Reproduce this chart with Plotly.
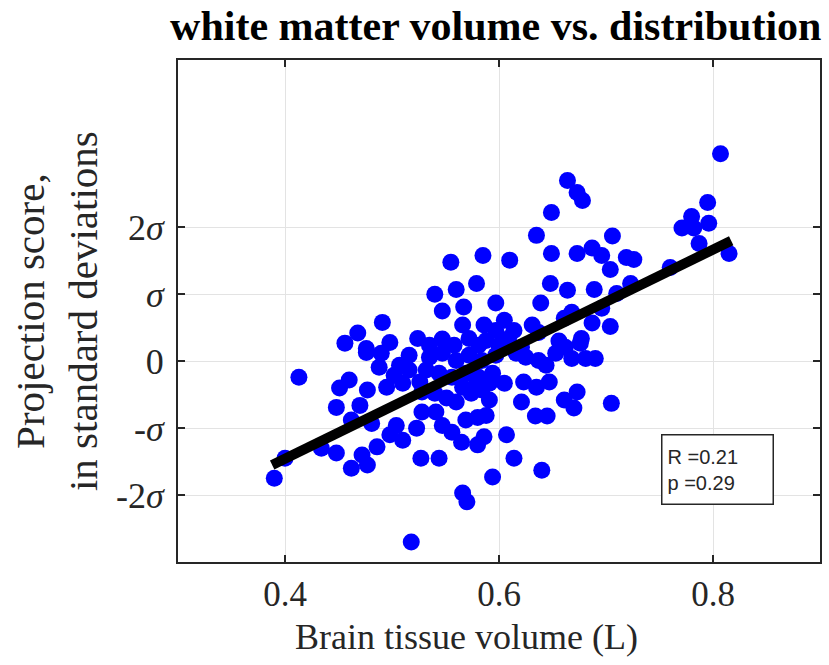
import plotly.graph_objects as go

# ---- data (brain tissue volume in L, projection score in SD units) ----
vol = [0.555, 0.585, 0.579, 0.560, 0.540, 0.567, 0.547, 0.597, 0.491, 0.566,
       0.586, 0.468, 0.524, 0.456, 0.498, 0.547, 0.572, 0.588, 0.476,
       0.807, 0.664, 0.673, 0.678, 0.649, 0.795, 0.780, 0.771, 0.782, 0.796,
       0.787, 0.815, 0.635, 0.706, 0.649, 0.673, 0.687, 0.696, 0.704, 0.719,
       0.726, 0.610, 0.760, 0.648, 0.664, 0.689, 0.723, 0.710, 0.639, 0.668,
       0.696, 0.605, 0.631, 0.661, 0.687, 0.704, 0.677, 0.656, 0.614, 0.637,
       0.413, 0.476, 0.490, 0.488, 0.460, 0.451, 0.477, 0.448, 0.470, 0.495,
       0.510, 0.462, 0.481, 0.400, 0.390, 0.434, 0.448, 0.462, 0.472, 0.477,
       0.486, 0.498, 0.510, 0.504, 0.523, 0.527, 0.544, 0.518, 0.566, 0.570,
       0.594, 0.528, 0.541, 0.547, 0.556, 0.565, 0.580, 0.586, 0.569, 0.580,
       0.588, 0.551, 0.560, 0.574, 0.584, 0.591, 0.528, 0.540,
       0.535, 0.547, 0.560, 0.572, 0.584, 0.597, 0.532, 0.544, 0.556, 0.569,
       0.581, 0.594, 0.566, 0.579, 0.591, 0.526,
       0.705, 0.673, 0.661, 0.670, 0.645, 0.634, 0.621, 0.647, 0.635, 0.623,
       0.607, 0.614, 0.640, 0.605, 0.668, 0.681, 0.690, 0.653, 0.637, 0.644,
       0.625, 0.616, 0.676, 0.662, 0.621,
       0.600, 0.609, 0.597, 0.581, 0.558, 0.535, 0.516, 0.507, 0.516, 0.502]
score = [1.48, 1.58, 1.16, 1.07, 1.00, 0.81, 0.75, 0.87, 0.58, 0.54,
         0.54, 0.42, 0.34, 0.27, 0.28, 0.33, 0.34, 0.31, 0.19,
         3.10, 2.70, 2.52, 2.40, 2.22, 2.37, 2.16, 1.99, 1.99, 2.06,
         1.76, 1.61, 1.88, 1.87, 1.61, 1.61, 1.69, 1.58, 1.37, 1.55,
         1.52, 1.51, 1.40, 1.16, 1.06, 1.07, 1.16, 1.01, 0.87, 0.73,
         0.79, 0.61, 0.54, 0.64, 0.57, 0.52, 0.34, 0.30, 0.46, 0.43,
         -0.24, 0.13, 0.12, -0.09, -0.28, -0.40, -0.43, -0.69, -0.66, -0.39,
         -0.33, -0.88, -0.93, -1.45, -1.75, -1.30, -1.37, -1.60, -1.40, -1.55,
         -1.28, -1.10, -1.18, -0.96, -1.00, -1.45, -1.45, -2.70, -1.97, -2.10,
         -1.73, -0.76, -0.76, -0.96, -1.06, -1.21, -1.25, -1.13, -0.88, -0.84,
         -0.81, -0.55, -0.61, -0.48, -0.43, -0.58, -0.46, -0.48,
         0.06, 0.12, 0.01, 0.09, 0.01, 0.09, -0.13, -0.18, -0.24, -0.18,
         -0.24, -0.18, -0.39, -0.33, -0.33, -0.31,
         -0.63, -0.46, -0.58, -0.70, -0.82, -0.82, -0.61, -0.31, -0.39, -0.31,
         -1.10, -1.45, -1.63, -0.33, 0.04, 0.04, 0.04, 0.12, 0.01, -0.06,
         0.06, 0.12, 0.27, 0.21, 0.21,
         0.24, 0.34, 0.46, 0.24, 0.24, 0.24, 0.09, -0.06, -0.13, -0.21]

fit_x = [0.388, 0.817]
fit_y = [-1.55, 1.80]

x_ticks = [0.4, 0.6, 0.8]
x_ticktext = ["0.4", "0.6", "0.8"]
y_ticks = [-2, -1, 0, 1, 2]
y_ticktext = ["-2<i>σ</i>", "-<i>σ</i>", "0", "<i>σ</i>", "2<i>σ</i>"]

title_text = "<b>white matter volume vs. distribution</b>"
x_label = "Brain tissue volume (L)"
y_label = "Projection score,<br>in standard deviations"
stats_text = "R =0.21<br>p =0.29"

SERIF = "Liberation Serif, Times New Roman, serif"
SANS = "Liberation Sans, Arial, sans-serif"
AXC = "#262626"

fig = go.Figure()
fig.add_trace(go.Scatter(x=vol, y=score, mode="markers",
                         marker=dict(color="#0000ff", size=17, line=dict(width=0)),
                         showlegend=False))
fig.add_trace(go.Scatter(x=fit_x, y=fit_y, mode="lines",
                         line=dict(color="black", width=10),
                         showlegend=False))

fig.update_layout(
    width=829, height=665,
    margin=dict(l=178, r=7, t=60, b=103),
    paper_bgcolor="white", plot_bgcolor="white",
    title=dict(text=title_text, x=0.495, xref="paper", y=1 - 25 / 665,
               yanchor="middle", xanchor="center",
               font=dict(family=SERIF, size=42, color="black")),
    xaxis=dict(range=[0.3, 0.9], tickvals=x_ticks, ticktext=x_ticktext,
               showgrid=True, gridcolor="#e3e3e3", gridwidth=1,
               zeroline=False, showline=True, linecolor=AXC, linewidth=2,
               mirror="ticks", ticks="inside", ticklen=7, tickwidth=1.5,
               tickcolor=AXC, ticklabelstandoff=0,
               tickfont=dict(family=SERIF, size=35, color=AXC)),
    yaxis=dict(range=[-3, 4.5], tickvals=y_ticks, ticktext=y_ticktext,
               showgrid=True, gridcolor="#e3e3e3", gridwidth=1,
               zeroline=False, showline=True, linecolor=AXC, linewidth=2,
               mirror="ticks", ticks="inside", ticklen=7, tickwidth=1.5,
               tickcolor=AXC, ticklabelstandoff=5,
               tickfont=dict(family=SERIF, size=36, color=AXC)),
    annotations=[
        dict(text=y_label, xref="paper", yref="paper", x=-0.19, y=0.5,
             xanchor="center", yanchor="middle", textangle=-90, showarrow=False,
             font=dict(family=SERIF, size=41, color=AXC)),
        dict(text=x_label, xref="paper", yref="paper", x=0.45, y=-0.15,
             xanchor="center", yanchor="middle", showarrow=False,
             font=dict(family=SERIF, size=36, color=AXC)),
        dict(text=stats_text, xref="paper", yref="paper", x=0.753, y=0.255,
             xanchor="left", yanchor="top", showarrow=False, align="left",
             width=100, height=58, borderpad=5, bordercolor=AXC, borderwidth=1.5,
             bgcolor="white", font=dict(family=SANS, size=20, color=AXC)),
    ],
)

fig.write_html("out.html")
